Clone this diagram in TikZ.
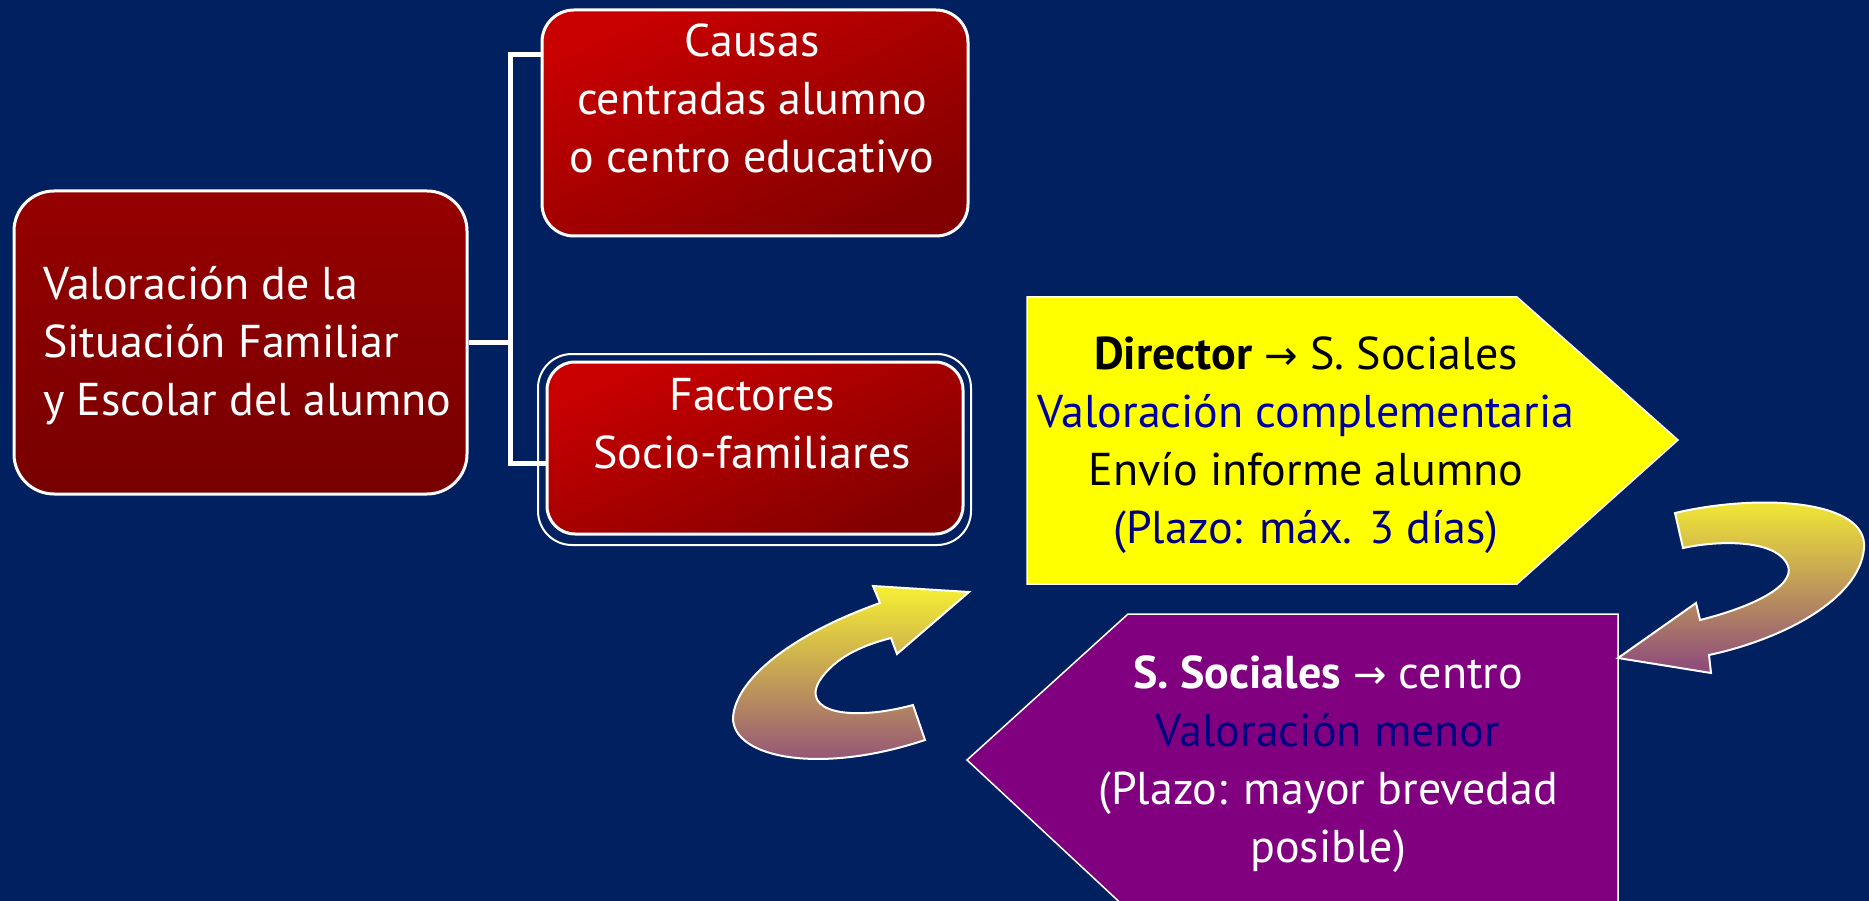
\documentclass[tikz,border=0pt]{standalone}
\usepackage{fontspec}
\setmainfont{PT Sans}
\newfontfamily\arrowfont{DejaVu Sans}
\newcommand{\myarrow}{{\arrowfont\fontsize{40}{58}\selectfont →}}
\definecolor{bg}{RGB}{0,32,96}
\definecolor{redA}{RGB}{200,0,0}
\definecolor{redB}{RGB}{130,0,0}
\definecolor{redC}{RGB}{150,0,0}
\definecolor{redD}{RGB}{120,0,0}
\definecolor{yel}{RGB}{255,255,0}
\definecolor{purp}{RGB}{128,0,128}
\definecolor{bluetxt}{RGB}{0,0,160}
\definecolor{navytxt}{RGB}{0,0,128}
\definecolor{arrA}{RGB}{246,240,50}
\definecolor{arrB}{RGB}{140,72,125}
\tikzset{
  redbox/.style={draw=white, line width=3pt, rounded corners=32pt, top color=redA, bottom color=redB, shading angle=25},
  leftbox/.style={draw=white, line width=3pt, rounded corners=40pt, top color=redC, bottom color=redD},
  conn/.style={draw=white, line width=5pt},
  txt/.style={font=\fontsize{46}{58}\selectfont, align=center, inner sep=0pt},
  curvarrow/.style={draw=white, line width=2pt, top color=arrA, bottom color=arrB},
}
\begin{document}
\begin{tikzpicture}[x=1pt,y=-1pt]
\fill[bg] (0,0) rectangle (1869,901);
\useasboundingbox (0,0) rectangle (1869,901);

% left box
\node[leftbox, minimum width=453pt, minimum height=303pt] (L) at (240.5,342.5) {};
\node[txt, align=left, anchor=west, text=white] (Lt) at (43,346) {Valoración de la\\Situación Familiar\\y Escolar del alumno};

% Causas box
\node[redbox, minimum width=426pt, minimum height=226pt] (C) at (755,123) {};
\node[txt, text=white] (Ct) at (752,98) {Causas\\centradas alumno\\o centro educativo};

% Factores box (double border)
\draw[white, line width=2pt, rounded corners=34pt] (538,354) rectangle (971,545);
\node[redbox, minimum width=416pt, minimum height=172pt, rounded corners=28pt] (F) at (755,448) {};
\node[txt, text=white] (Ft) at (752,424) {Factores\\Socio-familiares};

% connectors
\coordinate (j) at (510,343);
\coordinate (top) at (510,55);
\coordinate (bot) at (510,463);
\draw[conn] (L.east |- j) -- (j);
\draw[conn, line cap=rect] (C.west |- top) -- (top) -- (bot) -- (F.west |- bot);

% yellow pentagon
\draw[fill=yel, draw=white, line width=1.5pt] (1027,297) -- (1517,297) -- (1678,440) -- (1517,584) -- (1027,584) -- cycle;
\node[txt] (Y) at (1306,445) {\textbf{Director} \myarrow{} S. Sociales\\\textcolor{bluetxt}{Valoración complementaria}\\Envío informe alumno\\\textcolor{navytxt}{(Plazo: máx. 3 días)}};

% purple pentagon
\draw[fill=purp, draw=white, line width=1.5pt] (1618,614) -- (1128,614) -- (967,760) -- (1128,910) -- (1618,910) -- cycle;
\node[txt, text=white] (P) at (1328,764) {\textbf{S. Sociales} \myarrow{} centro\\\textcolor{navytxt}{Valoración menor}\\(Plazo: mayor brevedad\\posible)};

% curved arrows
\path[curvarrow] (925,740) -- (913,705)
  .. controls (850,722) and (800,712) .. (820,680)
  .. controls (835,658) and (860,646) .. (891,638)
  -- (897,654) -- (969,592) -- (873,586) -- (880,603)
  .. controls (790,635) and (735,680) .. (733,718)
  .. controls (733,758) and (820,775) .. (925,740) -- cycle;

\path[curvarrow] (1675,513)
  .. controls (1760,493) and (1868,500) .. (1864,548)
  .. controls (1860,600) and (1780,640) .. (1709,655)
  -- (1711,673) -- (1618,658) -- (1696,603) -- (1700,620)
  .. controls (1760,605) and (1800,582) .. (1786,562)
  .. controls (1772,540) and (1720,540) .. (1683,548) -- cycle;
\end{tikzpicture}
\end{document}
